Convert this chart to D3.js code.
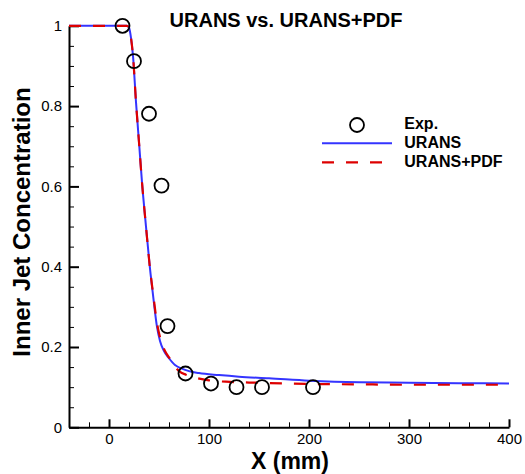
<!DOCTYPE html>
<html>
<head>
<meta charset="utf-8">
<script src="https://cdn.jsdelivr.net/npm/d3@7"></script>
<style>
  html, body { margin: 0; padding: 0; background: #fff; }
  svg { display: block; font-family: "Liberation Sans", Arial, Helvetica, sans-serif; }
</style>
</head>
<body>
<svg id="chart" width="525" height="474"></svg>
<script>
// Experimental points
const expX = [13.5, 25, 40, 52.5, 58.5, 76.5, 102, 127.5, 153, 204];
const expY = [1.0, 0.912, 0.781, 0.602, 0.252, 0.134, 0.109, 0.100, 0.100, 0.100];

// URANS centreline profile
const uransX = [-40, 0, 18, 20, 22, 24, 27, 30, 33, 37, 41, 44, 48, 51, 55, 60, 66, 73, 80, 90, 110, 130, 160, 200, 250, 300, 350, 400];
const uransY = [1, 1, 1, 0.995, 0.97, 0.925, 0.81, 0.71, 0.61, 0.5, 0.395, 0.33, 0.25, 0.215, 0.19, 0.172, 0.155, 0.146, 0.14, 0.135, 0.13, 0.126, 0.122, 0.116, 0.112, 0.111, 0.110, 0.109];

// URANS+PDF centreline profile
const pdfX = [-40, 0, 18, 20, 22, 24, 27, 30, 33, 37, 41, 44, 48, 52, 56, 62, 67, 71, 77, 83, 100, 121, 150, 200, 250, 300, 350, 400];
const pdfY = [1, 1, 1, 0.995, 0.97, 0.925, 0.81, 0.71, 0.61, 0.5, 0.395, 0.335, 0.26, 0.215, 0.19, 0.167, 0.148, 0.138, 0.131, 0.126, 0.117, 0.113, 0.111, 0.108, 0.107, 0.106, 0.106, 0.106];

// Axis ticks
const xMajor = [0, 100, 200, 300, 400];
const xMajorLabels = ["0", "100", "200", "300", "400"];
const yMajor = [0, 0.2, 0.4, 0.6, 0.8, 1];
const yMajorLabels = ["0", "0.2", "0.4", "0.6", "0.8", "1"];

const titleText = "URANS vs. URANS+PDF";
const xTitle = "X (mm)";
const yTitle = "Inner Jet Concentration";
const legendNames = ["Exp.", "URANS", "URANS+PDF"];

const blue = "#3434ff";
const red = "#dd0000";

const svg = d3.select("#chart");

const x = d3.scaleLinear().domain([-40, 400]).range([69, 509]);
const y = d3.scaleLinear().domain([0, 1]).range([427.3, 25.8]);

// minor ticks
const xMinor = d3.range(-40, 401, 20).filter(v => !xMajor.includes(v));
const yMinor = d3.range(0, 21).map(i => +(i * 0.05).toFixed(2)).filter(v => !yMajor.some(m => Math.abs(m - v) < 1e-9));

const gx = svg.append("g").attr("transform", `translate(0,${y(0)})`);
gx.call(d3.axisBottom(x).tickValues(xMajor).tickFormat((d, i) => xMajorLabels[i])
  .tickSizeInner(-8).tickSizeOuter(0).tickPadding(6));
gx.append("g").call(d3.axisBottom(x).tickValues(xMinor).tickFormat("").tickSizeInner(-5).tickSizeOuter(0))
  .call(g => g.select(".domain").remove());

const gy = svg.append("g").attr("transform", `translate(${x(-40)},0)`);
gy.call(d3.axisLeft(y).tickValues(yMajor).tickFormat((d, i) => yMajorLabels[i])
  .tickSizeInner(-10).tickSizeOuter(0).tickPadding(7));
gy.append("g").call(d3.axisLeft(y).tickValues(yMinor).tickFormat("").tickSizeInner(-5).tickSizeOuter(0))
  .call(g => g.select(".domain").remove());

svg.selectAll(".domain").attr("stroke", "#000").attr("stroke-width", 2);
svg.selectAll(".tick line").attr("stroke", "#000").attr("stroke-width", 1);
gx.selectAll(":scope > .tick line").attr("stroke-width", 2);
gy.selectAll(":scope > .tick line").attr("stroke-width", 2);
svg.selectAll(".tick text").attr("font-size", 15).attr("fill", "#000")
  .attr("font-family", "'Liberation Sans', Arial, sans-serif");

// curves
const line = d3.line().x(d => x(d[0])).y(d => y(d[1])).curve(d3.curveMonotoneX);

svg.append("path")
  .datum(d3.zip(uransX, uransY))
  .attr("d", line)
  .attr("fill", "none")
  .attr("stroke", blue)
  .attr("stroke-width", 2);

svg.append("path")
  .datum(d3.zip(pdfX, pdfY))
  .attr("d", line)
  .attr("fill", "none")
  .attr("stroke", red)
  .attr("stroke-width", 2.2)
  .attr("stroke-dasharray", "12,12");

// experimental symbols
svg.append("g").selectAll("circle")
  .data(d3.zip(expX, expY))
  .join("circle")
  .attr("cx", d => x(d[0]))
  .attr("cy", d => y(d[1]))
  .attr("r", 7)
  .attr("fill", "none")
  .attr("stroke", "#000")
  .attr("stroke-width", 1.8);

// titles
svg.append("text")
  .attr("x", 286).attr("y", 27)
  .attr("text-anchor", "middle")
  .attr("font-size", 20).attr("font-weight", "bold")
  .text(titleText);

svg.append("text")
  .attr("x", 290).attr("y", 469)
  .attr("text-anchor", "middle")
  .attr("font-size", 23).attr("font-weight", "bold")
  .text(xTitle);

svg.append("text")
  .attr("transform", "translate(29.5,222) rotate(-90)")
  .attr("text-anchor", "middle")
  .attr("font-size", 24).attr("font-weight", "bold")
  .text(yTitle);

// legend
const lg = svg.append("g");
lg.append("circle").attr("cx", 357).attr("cy", 125).attr("r", 7)
  .attr("fill", "none").attr("stroke", "#000").attr("stroke-width", 1.8);
lg.append("line").attr("x1", 322).attr("x2", 392).attr("y1", 143.3).attr("y2", 143.3)
  .attr("stroke", blue).attr("stroke-width", 2);
lg.append("line").attr("x1", 322).attr("x2", 382).attr("y1", 162.3).attr("y2", 162.3)
  .attr("stroke", red).attr("stroke-width", 2.2).attr("stroke-dasharray", "12,12");
const legendY = [129.3, 147.7, 166.7];
lg.selectAll("text")
  .data(legendNames)
  .join("text")
  .attr("x", 404.3)
  .attr("y", (d, i) => legendY[i])
  .attr("font-size", 16).attr("font-weight", "bold")
  .text(d => d);
</script>
</body>
</html>
